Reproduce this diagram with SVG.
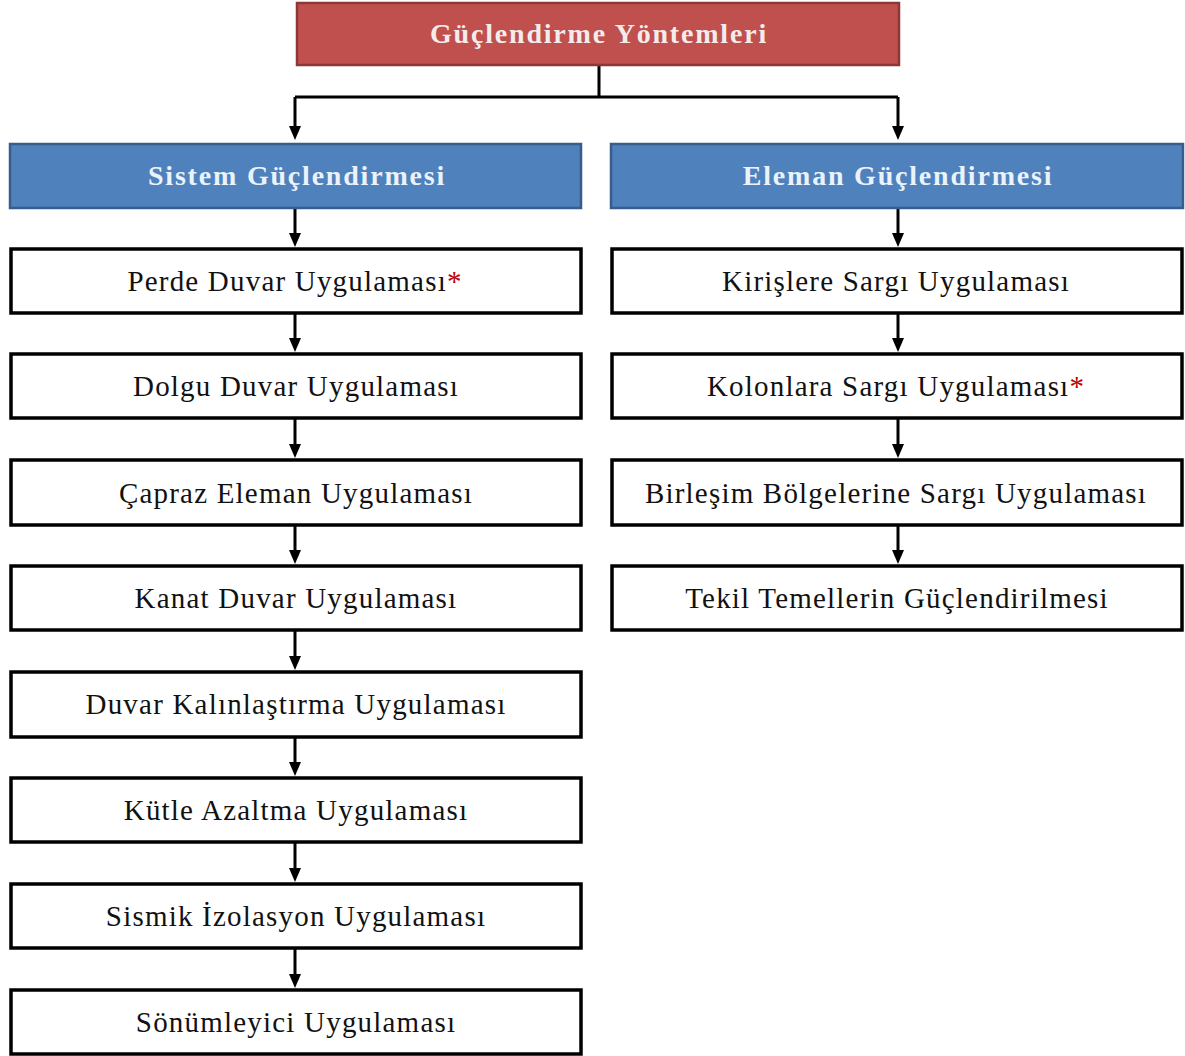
<svg xmlns="http://www.w3.org/2000/svg" width="1185" height="1056" viewBox="0 0 1185 1056">
<style>
.red{fill:#c0504d;stroke:#8c3836;stroke-width:2.5}
.blue{fill:#4f81bd;stroke:#385d8a;stroke-width:2.5}
.box{fill:#ffffff;stroke:#000000;stroke-width:3.5}
.ht{font-family:"Liberation Serif","DejaVu Serif",serif;font-weight:bold;font-size:28px;fill:#f4ecec;text-anchor:middle;letter-spacing:1.8px}
.bt{font-family:"Liberation Serif","DejaVu Serif",serif;font-weight:bold;font-size:28px;fill:#eaf2fa;text-anchor:middle;letter-spacing:1.8px}
.t{font-family:"Liberation Serif","DejaVu Serif",serif;font-size:29px;fill:#111111;text-anchor:middle;letter-spacing:1.2px}
.star{fill:#c00000}
.c{fill:none;stroke:#000;stroke-width:3}
</style>
<g id="connectors">
<path class="c" d="M599,65 V97 M295,97 H898"/>
<path class="c" d="M295,97 V128"/><path d="M289,126 L301,126 L295,140 Z"/>
<path class="c" d="M898,97 V128"/><path d="M892,126 L904,126 L898,140 Z"/>
<path class="c" d="M295,208 V234"/><path d="M289,233 L301,233 L295,247 Z"/>
<path class="c" d="M898,208 V234"/><path d="M892,233 L904,233 L898,247 Z"/>
<path class="c" d="M295,313 V339"/><path d="M289,338 L301,338 L295,352 Z"/>
<path class="c" d="M295,418 V445"/><path d="M289,444 L301,444 L295,458 Z"/>
<path class="c" d="M295,525 V551"/><path d="M289,550 L301,550 L295,564 Z"/>
<path class="c" d="M295,630 V657"/><path d="M289,656 L301,656 L295,670 Z"/>
<path class="c" d="M295,737 V763"/><path d="M289,762 L301,762 L295,776 Z"/>
<path class="c" d="M295,842 V869"/><path d="M289,868 L301,868 L295,882 Z"/>
<path class="c" d="M295,948 V975"/><path d="M289,974 L301,974 L295,988 Z"/>
<path class="c" d="M898,313 V339"/><path d="M892,338 L904,338 L898,352 Z"/>
<path class="c" d="M898,418 V445"/><path d="M892,444 L904,444 L898,458 Z"/>
<path class="c" d="M898,525 V551"/><path d="M892,550 L904,550 L898,564 Z"/>
</g>
<g id="root"><rect class="red" x="297" y="3" width="602" height="62"/><text class="ht" x="599" y="43">Güçlendirme Yöntemleri</text></g>
<g id="sistem"><rect class="blue" x="10" y="144" width="571" height="64"/><text class="bt" x="297" y="185">Sistem Güçlendirmesi</text></g>
<g id="eleman"><rect class="blue" x="611" y="144" width="572" height="64"/><text class="bt" x="898" y="185">Eleman Güçlendirmesi</text></g>
<g id="perde"><rect class="box" x="11" y="249" width="570" height="64"/><text class="t" x="295" y="291">Perde Duvar Uygulaması<tspan class="star">*</tspan></text></g>
<g id="dolgu"><rect class="box" x="11" y="354" width="570" height="64"/><text class="t" x="296" y="396">Dolgu Duvar Uygulaması</text></g>
<g id="capraz"><rect class="box" x="11" y="460" width="570" height="65"/><text class="t" x="296" y="503">Çapraz Eleman Uygulaması</text></g>
<g id="kanat"><rect class="box" x="11" y="566" width="570" height="64"/><text class="t" x="296" y="608">Kanat Duvar Uygulaması</text></g>
<g id="kalinlastirma"><rect class="box" x="11" y="672" width="570" height="65"/><text class="t" x="296" y="714">Duvar Kalınlaştırma Uygulaması</text></g>
<g id="kutle"><rect class="box" x="11" y="778" width="570" height="64"/><text class="t" x="296" y="820">Kütle Azaltma Uygulaması</text></g>
<g id="sismik"><rect class="box" x="11" y="884" width="570" height="64"/><text class="t" x="296" y="926">Sismik İzolasyon Uygulaması</text></g>
<g id="sonumleyici"><rect class="box" x="11" y="990" width="570" height="64"/><text class="t" x="296" y="1032">Sönümleyici Uygulaması</text></g>
<g id="kiris"><rect class="box" x="612" y="249" width="570" height="64"/><text class="t" x="896" y="291">Kirişlere Sargı Uygulaması</text></g>
<g id="kolon"><rect class="box" x="612" y="354" width="570" height="64"/><text class="t" x="896" y="396">Kolonlara Sargı Uygulaması<tspan class="star">*</tspan></text></g>
<g id="birlesim"><rect class="box" x="612" y="460" width="570" height="65"/><text class="t" x="896" y="503">Birleşim Bölgelerine Sargı Uygulaması</text></g>
<g id="tekil"><rect class="box" x="612" y="566" width="570" height="64"/><text class="t" x="897" y="608">Tekil Temellerin Güçlendirilmesi</text></g>
</svg>
